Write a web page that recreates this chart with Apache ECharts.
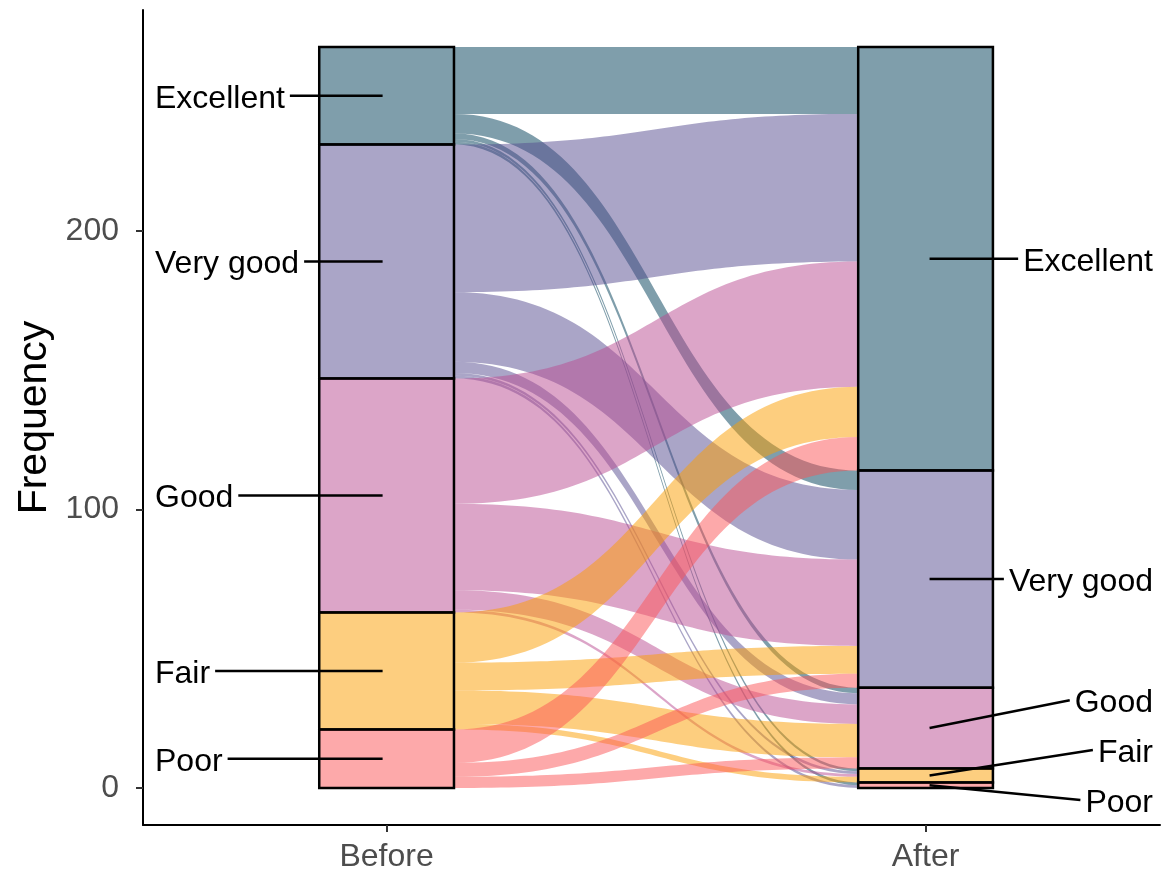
<!DOCTYPE html>
<html><head><meta charset="utf-8">
<script src="https://cdn.jsdelivr.net/npm/echarts@6/dist/echarts.min.js"></script>
<style>html,body{margin:0;padding:0;background:#fff}#c{width:1163px;height:875px}</style>
</head><body><div id="c"></div>
<script>
// ---------- data ----------
const axisNames = ['Before', 'After'];
const levels = ['Excellent', 'Very good', 'Good', 'Fair', 'Poor']; // top to bottom
// counts from a Before level (array name) to each After level (Excellent..Poor)
const fromExcellent = [24, 7, 2, 1, 1];
const fromVeryGood  = [53, 25, 4, 1, 1];
const fromGood      = [45, 31, 7, 1, 0];
const fromFair      = [18, 10, 12, 2, 0];
const fromPoor      = [12, 5, 4, 0, 0];
const yTicks = [0, 100, 200];
const xTicks = [1, 2];

// ---------- style / layout ----------
const baseColors = ['rgb(0,61,87)', 'rgb(85,75,143)', 'rgb(185,75,145)', 'rgb(251,157,0)', 'rgb(251,83,85)'];
const ALPHA = 0.5;
const W = 0.25;                 // stratum width (x units)
const XMIN = 0.548, XMAX = 2.435;
const BEFORE_LABEL_X = 0.5703;  // left edge of Before labels
const AFTER_LABEL_X = 2.422;    // right edge of After labels
const afterLabelShift = [0, 0, 10, 9.1, -5.3]; // repel offsets
const FONT = 'Liberation Sans, Arial, Helvetica, sans-serif';
const LABEL_SIZE = 32;
const TEXT_DY = 3;

function rgba(c, a) { return c.replace('rgb(', 'rgba(').replace(')', ',' + a + ')'); }

// ---------- derived ----------
const F = [fromExcellent, fromVeryGood, fromGood, fromFair, fromPoor];
const nL = levels.length;
const beforeTot = F.map(r => r.reduce((s, v) => s + v, 0));
const afterTot = levels.map((_, j) => F.reduce((s, r) => s + r[j], 0));
const N = beforeTot.reduce((s, v) => s + v, 0);
const YMIN = -0.05 * N, YMAX = 1.05 * N;

function stackTops(tot) { const t = []; let cur = N; tot.forEach(v => { t.push(cur); cur -= v; }); return t; }
const bTop = stackTops(beforeTot), aTop = stackTops(afterTot);

const flowData = [];
for (let i = 0; i < nL; i++) {
  for (let j = 0; j < nL; j++) {
    const v = F[i][j]; if (!v) continue;
    let bt = bTop[i]; for (let m = 0; m < j; m++) bt -= F[i][m];
    let at = aTop[j]; for (let k = 0; k < i; k++) at -= F[k][j];
    flowData.push([i, j, bt, bt - v, at, at - v]);
  }
}
const strataData = [];
for (let i = 0; i < nL; i++) {
  strataData.push([0, i, bTop[i] - beforeTot[i], bTop[i]]);
  strataData.push([1, i, aTop[i] - afterTot[i], aTop[i]]);
}
const labelData = [];
for (let i = 0; i < nL; i++) {
  labelData.push([0, i, bTop[i] - beforeTot[i] / 2]);
  labelData.push([1, i, aTop[i] - afterTot[i] / 2]);
}

const mctx = document.createElement('canvas').getContext('2d');
function textW(t) { mctx.font = LABEL_SIZE + 'px ' + FONT; return mctx.measureText(t).width; }

function bez(p0, p1, t) {
  const cx0 = p0[0] + (p1[0] - p0[0]) / 2, cx1 = p1[0] - (p1[0] - p0[0]) / 2;
  const u = 1 - t;
  const x = u*u*u*p0[0] + 3*u*u*t*cx0 + 3*u*t*t*cx1 + t*t*t*p1[0];
  const y = u*u*u*p0[1] + 3*u*u*t*p0[1] + 3*u*t*t*p1[1] + t*t*t*p1[1];
  return [x, y];
}

function renderFlow(params, api) {
  const i = api.value(0);
  const x0 = 1 + W / 2, x1 = 2 - W / 2;
  const p0t = api.coord([x0, api.value(2)]), p0b = api.coord([x0, api.value(3)]);
  const p1t = api.coord([x1, api.value(4)]), p1b = api.coord([x1, api.value(5)]);
  const pts = [], S = 60;
  for (let s = 0; s <= S; s++) pts.push(bez(p0t, p1t, s / S));
  for (let s = S; s >= 0; s--) pts.push(bez(p0b, p1b, s / S));
  return { type: 'polygon', shape: { points: pts }, style: { fill: rgba(baseColors[i], ALPHA), stroke: null } };
}

function renderStratum(params, api) {
  const ax = api.value(0), lvl = api.value(1);
  const x = ax + 1;
  const p0 = api.coord([x - W / 2, api.value(3)]);
  const p1 = api.coord([x + W / 2, api.value(2)]);
  return { type: 'rect', shape: { x: p0[0], y: p0[1], width: p1[0] - p0[0], height: p1[1] - p0[1] },
    style: { fill: rgba(baseColors[lvl], ALPHA), stroke: '#000', lineWidth: 2.5 } };
}

function renderLabel(params, api) {
  const ax = api.value(0), lvl = api.value(1), c = api.value(2);
  const txt = levels[lvl];
  const p = api.coord([ax + 1, c]);
  const w = textW(txt);
  const lineStyle = { stroke: '#000', lineWidth: 2.5 };
  const ts = { text: txt, fontSize: LABEL_SIZE, fontFamily: FONT, fill: '#000', verticalAlign: 'middle' };
  if (ax === 0) {
    const tl = api.coord([BEFORE_LABEL_X, c])[0];
    return { type: 'group', children: [
      { type: 'line', shape: { x1: tl + w + 5, y1: p[1], x2: p[0] - 4, y2: p[1] }, style: lineStyle },
      { type: 'text', x: tl, y: p[1] + TEXT_DY, style: Object.assign({ align: 'left' }, ts) }
    ] };
  } else {
    const ly = api.coord([2, c + afterLabelShift[lvl]])[1];
    const tr = api.coord([AFTER_LABEL_X, c])[0];
    return { type: 'group', children: [
      { type: 'line', shape: { x1: p[0] + 4, y1: p[1], x2: tr - w - 5, y2: ly }, style: lineStyle },
      { type: 'text', x: tr, y: ly + TEXT_DY, style: Object.assign({ align: 'right' }, ts) }
    ] };
  }
}

const chart = echarts.init(document.getElementById('c'), null, { renderer: 'canvas' });
chart.setOption({
  animation: false,
  backgroundColor: '#fff',
  grid: { left: 143, right: 3, top: 10, bottom: 50, containLabel: false },
  xAxis: {
    type: 'value', min: XMIN, max: XMAX,
    axisLine: { show: true, onZero: false, lineStyle: { color: '#000', width: 2 } },
    axisTick: { show: true, customValues: xTicks, length: 7, lineStyle: { color: '#333', width: 2 } },
    axisLabel: { show: true, customValues: xTicks, formatter: v => axisNames[Math.round(v) - 1], fontSize: 32, color: '#4d4d4d', margin: 16, fontFamily: FONT },
    splitLine: { show: false }
  },
  yAxis: {
    type: 'value', min: YMIN, max: YMAX,
    name: 'Frequency', nameLocation: 'middle', nameGap: 82,
    nameTextStyle: { fontSize: 41, color: '#000', fontFamily: FONT },
    axisLine: { show: true, onZero: false, lineStyle: { color: '#000', width: 2 } },
    axisTick: { show: true, customValues: yTicks, length: 7, lineStyle: { color: '#333', width: 2 } },
    axisLabel: { show: true, customValues: yTicks, fontSize: 32, color: '#4d4d4d', margin: 24, fontFamily: FONT },
    splitLine: { show: false }
  },
  series: [
    { type: 'custom', name: 'flows', coordinateSystem: 'cartesian2d', renderItem: renderFlow, data: flowData, clip: false, silent: true },
    { type: 'custom', name: 'strata', coordinateSystem: 'cartesian2d', renderItem: renderStratum, data: strataData, clip: false, silent: true },
    { type: 'custom', name: 'labels', coordinateSystem: 'cartesian2d', renderItem: renderLabel, data: labelData, clip: false, silent: true }
  ]
});
</script></body></html>
